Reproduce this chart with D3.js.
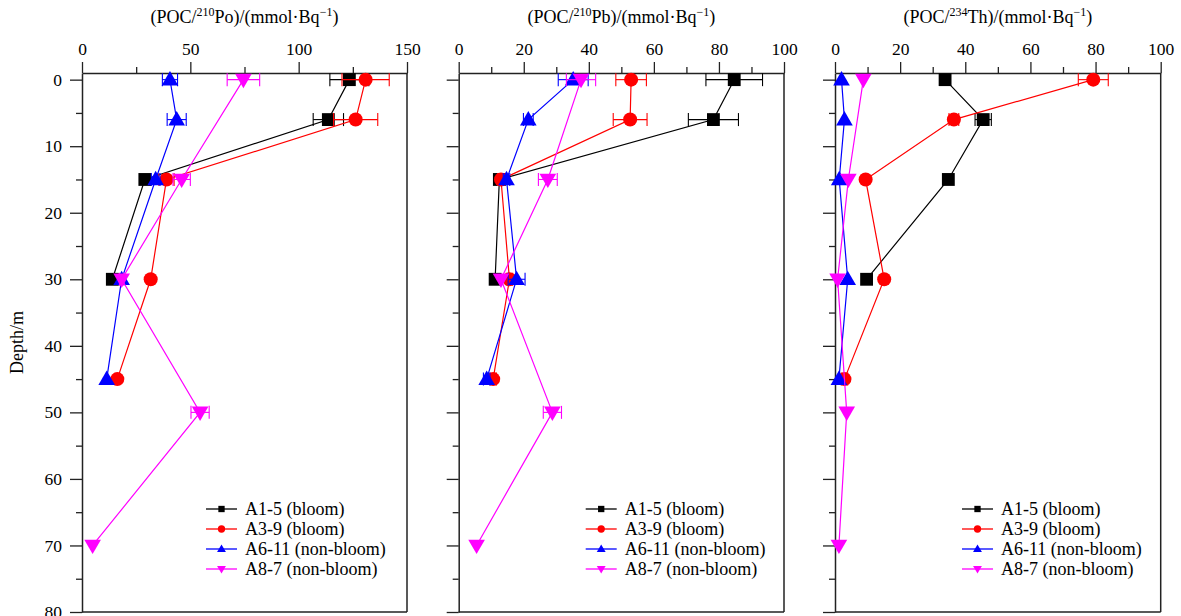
<!DOCTYPE html>
<html>
<head>
<meta charset="utf-8">
<script src="https://cdn.jsdelivr.net/npm/d3@7"></script>
<style>
  body { margin: 0; background: #fff; }
  svg text { font-family: "Liberation Serif", "Times New Roman", serif; fill: #000; }
</style>
</head>
<body>
<svg id="chart" width="1181" height="616"></svg>
<script>
// series names / colours
var seriesNames = ["A1-5 (bloom)", "A3-9 (bloom)", "A6-11 (non-bloom)", "A8-7 (non-bloom)"];
var seriesColors = ["#000000", "#ff0000", "#0000ff", "#ff00ff"];
var seriesSymbols = ["square", "circle", "triangle", "down"];

// sampling depths (m) per station
var depthA1 = [0, 6, 15, 30];
var depthA3 = [0, 6, 15, 30, 45];
var depthA6 = [0, 6, 15, 30, 45];
var depthA8 = [0, 15, 30, 50, 70];

// POC/210Po
var poA1 = [123.4, 113.7, 29, 14],        poA1err = [9, 7, 0, 0];
var poA3 = [130.9, 126.3, 39, 31.7, 16.3], poA3err = [10.9, 10.2, 3.5, 0, 0];
var poA6 = [40.6, 43.7, 34, 18.3, 11.4],   poA6err = [3.5, 4.4, 2, 0, 0];
var poA8 = [74.5, 46, 18.3, 54.5, 4.9],    poA8err = [7.5, 4, 1, 4.2, 0];

// POC/210Pb
var pbA1 = [84.7, 78.3, 12.5, 11.2],       pbA1err = [8.7, 7.7, 0, 0];
var pbA3 = [53.0, 52.7, 13.0, 15.6, 10.6], pbA3err = [4.7, 5.2, 1, 1, 1];
var pbA6 = [35.2, 21.4, 14.7, 17.8, 8.6],  pbA6err = [4.6, 1.5, 1, 2.6, 1];
var pbA8 = [37.6, 27.4, 13.0, 28.8, 5.5],  pbA8err = [4.5, 2.9, 0, 2.8, 0];

// POC/234Th
var thA1 = [33.8, 45.5, 34.8, 9.7],        thA1err = [0, 2.5, 0, 0];
var thA3 = [79.3, 36.5, 9.4, 15.1, 2.9],   thA3err = [4.6, 1.5, 0, 0, 1];
var thA6 = [2.0, 2.9, 1.3, 3.9, 1.2],      thA6err = [0, 0, 0, 0, 0];
var thA8 = [8.7, 4.1, 0.8, 3.6, 1.2],      thA8err = [0, 0, 0, 0, 0];

var depthTicks = [0, 10, 20, 30, 40, 50, 60, 70, 80];
var depthMinor = [5, 15, 25, 35, 45, 55, 65, 75];

function build(vals, errs, depths) {
  return depths.map(function(d, i) { return {depth: d, v: vals[i], e: errs[i]}; });
}

var panels = [
  { iso: "210", el: "Po", left: 82, right: 407, max: 150, ticks: [0, 50, 100, 150], minor: [25, 75, 125], legX: 124,
    series: [build(poA1, poA1err, depthA1), build(poA3, poA3err, depthA3), build(poA6, poA6err, depthA6), build(poA8, poA8err, depthA8)] },
  { iso: "210", el: "Pb", left: 458.7, right: 784, max: 100, ticks: [0, 20, 40, 60, 80, 100], minor: [10, 30, 50, 70, 90], legX: 127,
    series: [build(pbA1, pbA1err, depthA1), build(pbA3, pbA3err, depthA3), build(pbA6, pbA6err, depthA6), build(pbA8, pbA8err, depthA8)] },
  { iso: "234", el: "Th", left: 835, right: 1160.7, max: 100, ticks: [0, 20, 40, 60, 80, 100], minor: [10, 30, 50, 70, 90], legX: 127,
    series: [build(thA1, thA1err, depthA1), build(thA3, thA3err, depthA3), build(thA6, thA6err, depthA6), build(thA8, thA8err, depthA8)] }
];

var svg = d3.select("#chart");
var plotTop = 73, plotBottom = 612;
var serif = "Liberation Serif, Times New Roman, serif";

var y = d3.scaleLinear().domain([-1, 80]).range([plotTop, plotBottom]);

function symbolPath(kind, size) {
  var t = kind === "square" ? d3.symbolSquare : kind === "circle" ? d3.symbolCircle : d3.symbolTriangle;
  return d3.symbol().type(t).size(size)();
}

function symbolSize(kind) {
  if (kind === "square") return 165;
  if (kind === "circle") return 155;
  return 120;
}

panels.forEach(function(p, pi) {
  var x = d3.scaleLinear().domain([0, p.max]).range([p.left, p.right]);
  var g = svg.append("g");

  // frame: right and bottom lines
  g.append("line").attr("x1", p.right).attr("x2", p.right).attr("y1", plotTop).attr("y2", plotBottom)
    .attr("stroke", "#222").attr("stroke-width", 1.5);
  g.append("line").attr("x1", p.left).attr("x2", p.right).attr("y1", plotBottom).attr("y2", plotBottom)
    .attr("stroke", "#222").attr("stroke-width", 1.5);

  // top axis
  g.append("g").attr("transform", "translate(0," + plotTop + ")")
    .call(d3.axisTop(x).tickValues(p.ticks).tickSize(11).tickSizeOuter(0).tickPadding(7));
  g.append("g").attr("transform", "translate(0," + plotTop + ")")
    .call(d3.axisTop(x).tickValues(p.minor).tickSize(6).tickSizeOuter(0).tickFormat(""))
    .select(".domain").remove();

  // left axis
  g.append("g").attr("transform", "translate(" + p.left + ",0)")
    .call(d3.axisLeft(y).tickValues(depthTicks).tickSize(12).tickSizeOuter(0).tickPadding(8)
      .tickFormat(pi === 0 ? d3.format("d") : ""));
  g.append("g").attr("transform", "translate(" + p.left + ",0)")
    .call(d3.axisLeft(y).tickValues(depthMinor).tickSize(6).tickSizeOuter(0).tickFormat(""))
    .select(".domain").remove();

  g.selectAll(".domain").attr("stroke", "#222").attr("stroke-width", 1.5);
  g.selectAll(".tick line").attr("stroke", "#222").attr("stroke-width", 1.3);
  g.selectAll(".tick text").attr("font-family", serif).attr("font-size", 17.5).attr("fill", "#000");

  // panel title
  var title = g.append("text").attr("x", (p.left + p.right) / 2).attr("y", 23)
    .attr("text-anchor", "middle").attr("font-family", serif).attr("font-size", 18);
  title.append("tspan").text("(POC/");
  title.append("tspan").attr("dy", -7).attr("font-size", 12).text(p.iso);
  title.append("tspan").attr("dy", 7).text(p.el + ")/(mmol\u00b7Bq");
  title.append("tspan").attr("dy", -7).attr("font-size", 12).text("\u22121");
  title.append("tspan").attr("dy", 7).text(")");

  // series
  p.series.forEach(function(data, si) {
    var col = seriesColors[si];
    var sg = g.append("g");
    sg.append("path").datum(data)
      .attr("fill", "none").attr("stroke", col).attr("stroke-width", 1.2)
      .attr("d", d3.line().x(function(d) { return x(d.v); }).y(function(d) { return y(d.depth); }));

    var eb = sg.selectAll(".err").data(data.filter(function(d) { return d.e > 0; })).enter().append("g");
    eb.append("line")
      .attr("x1", function(d) { return x(d.v - d.e); }).attr("x2", function(d) { return x(d.v + d.e); })
      .attr("y1", function(d) { return y(d.depth); }).attr("y2", function(d) { return y(d.depth); })
      .attr("stroke", col).attr("stroke-width", 1.1);
    [-1, 1].forEach(function(s) {
      eb.append("line")
        .attr("x1", function(d) { return x(d.v + s * d.e); }).attr("x2", function(d) { return x(d.v + s * d.e); })
        .attr("y1", function(d) { return y(d.depth) - 6.5; }).attr("y2", function(d) { return y(d.depth) + 6.5; })
        .attr("stroke", col).attr("stroke-width", 1.1);
    });

    var kind = seriesSymbols[si];
    sg.selectAll(".pt").data(data).enter().append("path")
      .attr("d", symbolPath(kind, symbolSize(kind)))
      .attr("transform", function(d) {
        var tr = "translate(" + x(d.v) + "," + (y(d.depth) + (kind === "triangle" ? 1 : kind === "down" ? -1 : 0)) + ")";
        return kind === "down" ? tr + " rotate(180)" : tr;
      })
      .attr("fill", col);
  });

  // legend
  var lg = g.append("g").attr("transform", "translate(" + (p.left + p.legX) + ",509)");
  seriesNames.forEach(function(name, si) {
    var row = lg.append("g").attr("transform", "translate(0," + si * 20 + ")");
    row.append("line").attr("x1", 0).attr("x2", 31).attr("y1", 0).attr("y2", 0)
      .attr("stroke", seriesColors[si]).attr("stroke-width", 1.3);
    var kind = seriesSymbols[si];
    row.append("path").attr("d", symbolPath(kind, kind === "square" ? 40 : kind === "circle" ? 42 : 34))
      .attr("transform", "translate(15.5," + (kind === "triangle" ? 0.5 : kind === "down" ? -0.5 : 0) + ")" + (kind === "down" ? " rotate(180)" : ""))
      .attr("fill", seriesColors[si]);
    row.append("text").attr("x", 39).attr("y", 6).attr("font-family", serif).attr("font-size", 18).text(name);
  });
});

// y axis title
svg.append("text").attr("transform", "translate(23," + ((plotTop + plotBottom) / 2) + ") rotate(-90)")
  .attr("text-anchor", "middle").attr("font-family", serif).attr("font-size", 18).text("Depth/m");
</script>
</body>
</html>
